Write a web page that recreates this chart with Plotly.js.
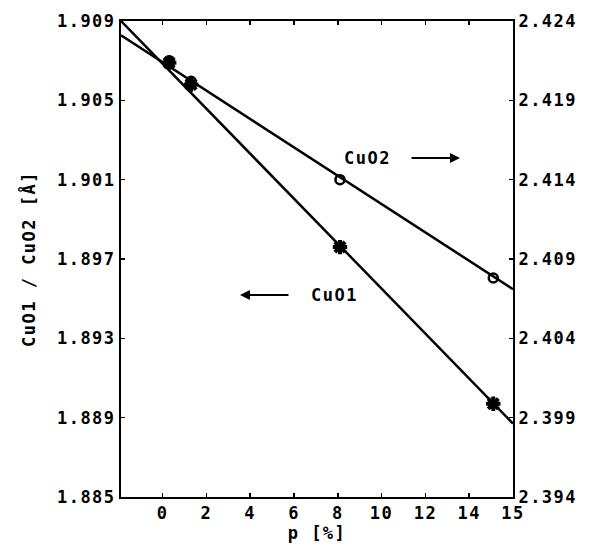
<!DOCTYPE html>
<html>
<head>
<meta charset="utf-8">
<script src="https://cdn.plot.ly/plotly-3.0.1.min.js"></script>
<style>
html,body{margin:0;padding:0;background:#fff;}
#chart text{letter-spacing:1.5px;}
</style>
</head>
<body>
<div id="chart" style="width:591px;height:557px;"></div>
<script>
// Measured points
var pValues = [0.3, 1.3, 8.1, 15.1];
var cuo1Values = [1.9069, 1.9058, 1.8976, 1.8897];
var cuo2Values = [2.4215, 2.4202, 2.4140, 2.4078];
// Fitted lines (end points)
var fitP = [-1.9, 16];
var cuo1Fit = [1.9090, 1.8887];
var cuo2Fit = [2.4231, 2.4071];
// Tick labels
var xTickVals = [0, 2, 4, 6, 8, 10, 12, 14, 16];
var xTickText = ['0', '2', '4', '6', '8', '10', '12', '14', '15'];
var yLeftTicks = [1.885, 1.889, 1.893, 1.897, 1.901, 1.905, 1.909];
var yRightTicks = [2.394, 2.399, 2.404, 2.409, 2.414, 2.419, 2.424];

var fnt = {family: 'DejaVu Sans Mono, monospace', size: 17, color: '#000', weight: 'bold'};

var traces = [
  {x: fitP, y: cuo1Fit, mode: 'lines', line: {color: '#000', width: 2.5}, yaxis: 'y', hoverinfo: 'skip'},
  {x: fitP, y: cuo2Fit, mode: 'lines', line: {color: '#000', width: 2.5}, yaxis: 'y2', hoverinfo: 'skip'},
  {x: pValues, y: cuo1Values, mode: 'markers', yaxis: 'y',
   marker: {symbol: 'asterisk-open', size: 12, color: '#000', line: {color: '#000', width: 4}}},
  {x: pValues, y: cuo2Values, mode: 'markers', yaxis: 'y2',
   marker: {symbol: 'circle-open', size: 9, color: '#000', line: {color: '#000', width: 2.5}}}
];

var layout = {
  width: 591, height: 557,
  margin: {l: 121, r: 78, t: 21, b: 60, pad: 0},
  paper_bgcolor: '#fff', plot_bgcolor: '#fff',
  showlegend: false,
  font: fnt,
  xaxis: {
    range: [-1.9, 16], tickvals: xTickVals, ticktext: xTickText,
    showgrid: false, zeroline: false, showline: true, linecolor: '#000', linewidth: 2,
    mirror: 'ticks', ticks: 'inside', ticklen: 4, tickwidth: 1.5, tickcolor: '#000',
    tickfont: fnt,
    title: {text: 'p [%]', font: fnt, standoff: 4}
  },
  yaxis: {
    range: [1.885, 1.909], tickvals: yLeftTicks, tickformat: '.3f',
    showgrid: false, zeroline: false, showline: true, linecolor: '#000', linewidth: 2,
    ticks: 'inside', ticklen: 4, tickwidth: 1.5, tickcolor: '#000',
    tickfont: fnt,
    title: {text: 'CuO1 / CuO2 [Å]', font: fnt, standoff: 24}
  },
  yaxis2: {
    range: [2.394, 2.424], tickvals: yRightTicks, tickformat: '.3f',
    overlaying: 'y', side: 'right',
    showgrid: false, zeroline: false, showline: true, linecolor: '#000', linewidth: 2,
    ticks: 'inside', ticklen: 4, tickwidth: 1.5, tickcolor: '#000',
    tickfont: fnt
  },
  annotations: [
    {xref: 'paper', yref: 'paper', x: (367 - 121) / 392, y: (497 - 158) / 476, text: 'CuO2',
     showarrow: false, font: fnt, xanchor: 'center', yanchor: 'middle'},
    {xref: 'paper', yref: 'paper', x: (334 - 121) / 392, y: (497 - 295) / 476, text: 'CuO1',
     showarrow: false, font: fnt, xanchor: 'center', yanchor: 'middle'},
    {xref: 'paper', yref: 'paper', x: (460 - 121) / 392, y: (497 - 158) / 476,
     ax: (410 - 121) / 392, ay: (497 - 158) / 476, axref: 'paper', ayref: 'paper',
     text: '', showarrow: true, arrowhead: 2, arrowsize: 1, arrowwidth: 2, arrowcolor: '#000'},
    {xref: 'paper', yref: 'paper', x: (240 - 121) / 392, y: (497 - 295) / 476,
     ax: (290 - 121) / 392, ay: (497 - 295) / 476, axref: 'paper', ayref: 'paper',
     text: '', showarrow: true, arrowhead: 2, arrowsize: 1, arrowwidth: 2, arrowcolor: '#000'}
  ]
};

Plotly.newPlot('chart', traces, layout, {displayModeBar: false, staticPlot: true});
</script>
</body>
</html>
